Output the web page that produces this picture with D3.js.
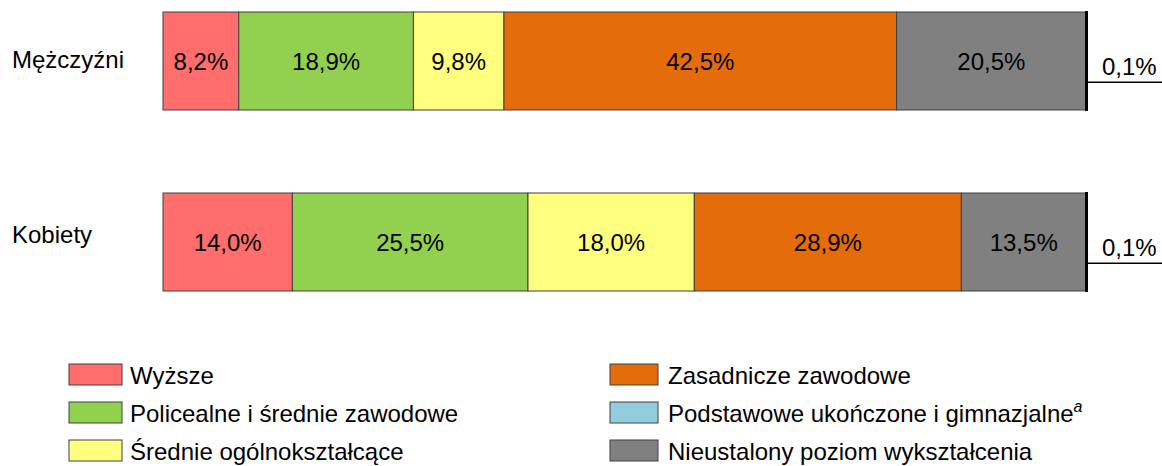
<!DOCTYPE html>
<html lang="pl">
<head>
<meta charset="UTF-8">
<title>Wykształcenie</title>
<script src="https://cdn.jsdelivr.net/npm/d3@7"></script>
<style>
body{margin:0;background:#fff}
text{font-family:"Liberation Sans",Arial,sans-serif;fill:#000}
</style>
</head>
<body>
<div id="chart"></div>
<script>
// dane
var kategorie=['Mężczyźni','Kobiety']
var poziomy=['Wyższe','Policealne i średnie zawodowe','Średnie ogólnokształcące','Zasadnicze zawodowe','Nieustalony poziom wykształcenia','Podstawowe ukończone i gimnazjalne']
var mezczyzni=[8.2,18.9,9.8,42.5,20.5,0.1]
var kobiety=[14.0,25.5,18.0,28.9,13.5,0.1]
var kolory=['#FF6D6D','#92D050','#FFFF80','#E46C0A','#808080','#92CDDC']
// kolejnosc legendy
var legenda=['Wyższe','Policealne i średnie zawodowe','Średnie ogólnokształcące','Zasadnicze zawodowe','Podstawowe ukończone i gimnazjalne','Nieustalony poziom wykształcenia']

var W=1162,H=466,fs=24
var svg=d3.select('#chart').append('svg').attr('width',W).attr('height',H)

var x=d3.scaleLinear().domain([0,100]).range([163,1087])
var y=d3.scaleBand().domain(kategorie).range([12,291]).paddingInner(0.4586)
var kolor=d3.scaleOrdinal().domain(poziomy).range(kolory)

var wiersze=[mezczyzni,kobiety].map(function(v,i){
	var suma=0
	return {kat:kategorie[i],seg:v.map(function(d,j){
		var s={poz:poziomy[j],v:d,x0:suma,x1:suma+d}
		suma+=d
		return s
	})}
})
var fmt=function(v){return v.toFixed(1).replace('.',',')+'%'}
var etykietaDy=[7,1]

var g=svg.selectAll('g.wiersz').data(wiersze).enter().append('g').attr('class','wiersz')
g.append('text')
	.attr('x',12)
	.attr('y',function(d,i){return y(d.kat)+y.bandwidth()/2+etykietaDy[i]})
	.attr('font-size',fs)
	.text(function(d){return d.kat})

g.selectAll('rect').data(function(d){return d.seg.map(function(s){s.kat=d.kat;return s})})
	.enter().append('rect')
	.attr('x',function(d){return x(d.x0)})
	.attr('y',function(d){return y(d.kat)})
	.attr('width',function(d){return x(d.x1)-x(d.x0)})
	.attr('height',y.bandwidth())
	.attr('fill',function(d){return kolor(d.poz)})
	.attr('stroke',function(d){return d.v<1?'#000':'#404040'})
	.attr('stroke-width',function(d){return d.v<1?2:1})

// etykiety wewnatrz
g.selectAll('text.val').data(function(d){return d.seg.filter(function(s){return s.v>=1})})
	.enter().append('text').attr('class','val')
	.attr('x',function(d){return (x(d.x0)+x(d.x1))/2})
	.attr('y',function(d){return y(d.kat)+y.bandwidth()/2+9})
	.attr('text-anchor','middle')
	.attr('font-size',fs)
	.text(function(d){return fmt(d.v)})

// male wartosci z linia
var male=g.selectAll('g.maly').data(function(d){return d.seg.filter(function(s){return s.v<1})})
	.enter().append('g').attr('class','maly')
male.append('line')
	.attr('x1',function(d){return x(d.x1)})
	.attr('x2',W)
	.attr('y1',function(d){return y(d.kat)+y.bandwidth()*0.717})
	.attr('y2',function(d){return y(d.kat)+y.bandwidth()*0.717})
	.attr('stroke','#000').attr('stroke-width',1.5)
male.append('text')
	.attr('x',1102)
	.attr('y',function(d){return y(d.kat)+y.bandwidth()*0.717-7})
	.attr('font-size',fs)
	.text(function(d){return fmt(d.v)})

// legenda
var leg=svg.append('g')
var item=leg.selectAll('g').data(legenda).enter().append('g')
	.attr('transform',function(d,i){return 'translate('+(i<3?69:610)+','+(364+(i%3)*38)+')'})
item.append('rect')
	.attr('width',function(d,i){return i<3?53:48})
	.attr('height',21)
	.attr('fill',function(d){return kolor(d)})
	.attr('stroke','#404040').attr('stroke-width',1)
var lt=item.append('text')
	.attr('x',function(d,i){return i<3?61:58})
	.attr('y',20)
	.attr('font-size',fs)
lt.append('tspan').text(function(d){return d})
lt.filter(function(d){return d.indexOf('Podstawowe')==0})
	.append('tspan').attr('font-size',16).attr('font-style','italic').attr('dy',-10).text('a')
</script>
</body>
</html>
